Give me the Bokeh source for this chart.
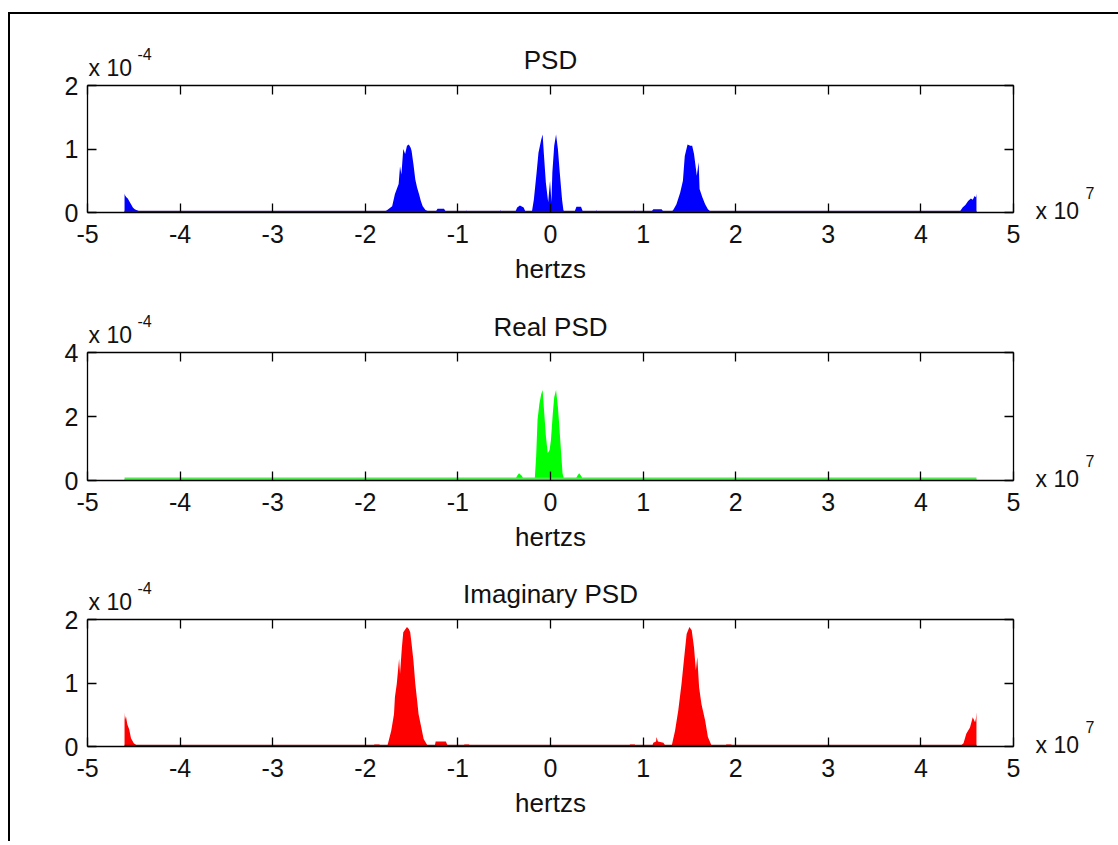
from bokeh.plotting import figure
from bokeh.layouts import column
from bokeh.models import Label, LinearAxis, FixedTicker, Range1d
from bokeh.embed import file_html
from bokeh.resources import INLINE

FONT = "Liberation Sans"
TICK_FS = "25px"
LABEL_FS = "26px"
MULT_FS = "23px"
SUP_FS = "16px"
TXT = "#111111"

# ---------------- data (frequency in units of 1e7 Hz, PSD in units of 1e-4) ---------------
x_ticks = [-5, -4, -3, -2, -1, 0, 1, 2, 3, 4, 5]
x_tick_labels = ["-5", "-4", "-3", "-2", "-1", "0", "1", "2", "3", "4", "5"]
titles = ["PSD", "Real PSD", "Imaginary PSD"]
x_label = "hertzs"
y_limits = [2, 4, 2]
y_ticks = [[0, 1, 2], [0, 2, 4], [0, 1, 2]]
y_multiplier = ["x 10", "-4"]
x_multiplier = ["x 10", "7"]
baseline_levels = [0.01, 0.05, 0.01]

psd_freq = [-4.6, -4.595, -4.58, -4.565, -4.55, -4.53, -4.51, -4.49, -4.46, -4.43,
            -1.80, -1.77, -1.71, -1.68, -1.64, -1.625, -1.61, -1.59, -1.57, -1.55, -1.53, -1.51,
            -1.50, -1.48, -1.46, -1.44, -1.42, -1.40, -1.38, -1.35, -1.31,
            -1.24, -1.22, -1.15, -1.13, -0.92, -0.91, -0.90, -0.55, -0.54, -0.52,
            -0.38, -0.36, -0.33, -0.29, -0.27,
            -0.20, -0.18, -0.15, -0.13, -0.10, -0.085, -0.07, -0.05, -0.025, -0.005,
            0.01, 0.02, 0.04, 0.06, 0.08, 0.10, 0.125, 0.14, 0.16,
            0.26, 0.28, 0.33, 0.35, 0.48, 0.495, 0.51, 0.90, 0.91, 0.92,
            1.09, 1.11, 1.20, 1.22,
            1.31, 1.33, 1.36, 1.40, 1.43, 1.45, 1.48, 1.51, 1.53, 1.55, 1.58, 1.60, 1.61,
            1.64, 1.67, 1.70, 1.73,
            4.42, 4.45, 4.48, 4.51, 4.54, 4.56, 4.58, 4.595, 4.6]
psd_val = [0.30, 0.27, 0.24, 0.22, 0.18, 0.13, 0.08, 0.05, 0.03, 0.01,
           0.01, 0.03, 0.10, 0.29, 0.45, 0.73, 0.60, 1.00, 0.92, 1.05, 1.07, 1.02,
           0.97, 0.76, 0.52, 0.39, 0.29, 0.18, 0.10, 0.04, 0.01,
           0.01, 0.06, 0.06, 0.01, 0.01, 0.03, 0.01, 0.01, 0.03, 0.01,
           0.01, 0.08, 0.11, 0.08, 0.01,
           0.02, 0.20, 0.63, 0.94, 1.15, 1.23, 0.89, 0.47, 0.16, 0.50,
           0.16, 0.63, 1.05, 1.23, 1.00, 0.63, 0.20, 0.03, 0.01,
           0.01, 0.09, 0.09, 0.01, 0.01, 0.03, 0.01, 0.01, 0.03, 0.01,
           0.01, 0.05, 0.05, 0.01,
           0.01, 0.05, 0.13, 0.31, 0.50, 0.89, 1.07, 1.05, 1.05, 0.92, 0.58, 0.79, 0.37,
           0.24, 0.13, 0.05, 0.01,
           0.01, 0.08, 0.12, 0.18, 0.22, 0.20, 0.26, 0.24, 0.30]

real_freq = [-4.6, -0.55, -0.53, -0.51, -0.38, -0.36, -0.34, -0.31, -0.29,
             -0.17, -0.155, -0.14, -0.12, -0.10, -0.085, -0.07, -0.05, -0.03, -0.01,
             0.005, 0.025, 0.04, 0.06, 0.08, 0.095, 0.115, 0.13, 0.145,
             0.27, 0.29, 0.31, 0.33, 0.35, 0.49, 0.51, 0.53, 4.6]
real_val = [0.04, 0.04, 0.08, 0.04, 0.04, 0.15, 0.23, 0.15, 0.04,
            0.05, 0.75, 1.90, 2.40, 2.70, 2.83, 2.20, 1.40, 0.85, 0.95,
            1.27, 2.10, 2.60, 2.83, 2.30, 1.70, 0.85, 0.23, 0.04,
            0.04, 0.15, 0.23, 0.15, 0.04, 0.04, 0.08, 0.04, 0.04]

imag_freq = [-4.6, -4.595, -4.585, -4.57, -4.55, -4.53, -4.50, -4.47,
             -1.92, -1.90, -1.85, -1.83,
             -1.76, -1.72, -1.69, -1.68, -1.66, -1.635, -1.625, -1.605, -1.59, -1.55, -1.53,
             -1.515, -1.50, -1.48, -1.46, -1.44, -1.425, -1.395, -1.37, -1.33,
             -1.25, -1.24, -1.13, -1.11, -0.94, -0.93, -0.88, -0.87, -0.67, -0.66, -0.65,
             0.63, 0.64, 0.65, 0.85, 0.86, 0.91, 0.92,
             1.10, 1.11, 1.14, 1.145, 1.16, 1.22, 1.24,
             1.31, 1.345, 1.38, 1.415, 1.44, 1.47, 1.50, 1.525, 1.55, 1.57, 1.585, 1.605,
             1.63, 1.67, 1.70, 1.74,
             1.88, 1.90, 1.95, 1.97,
             4.43, 4.46, 4.49, 4.53, 4.56, 4.585, 4.595, 4.6]
imag_val = [0.54, 0.42, 0.48, 0.35, 0.27, 0.13, 0.05, 0.02,
            0.01, 0.03, 0.03, 0.01,
            0.02, 0.25, 0.51, 0.78, 0.99, 1.38, 1.14, 1.56, 1.80, 1.88, 1.85,
            1.80, 1.62, 1.35, 0.99, 0.72, 0.51, 0.30, 0.12, 0.02,
            0.01, 0.08, 0.08, 0.01, 0.01, 0.03, 0.03, 0.01, 0.01, 0.02, 0.01,
            0.01, 0.02, 0.01, 0.01, 0.03, 0.03, 0.01,
            0.01, 0.06, 0.08, 0.15, 0.08, 0.06, 0.01,
            0.02, 0.25, 0.57, 0.99, 1.35, 1.77, 1.88, 1.83, 1.56, 1.20, 1.41, 0.93,
            0.67, 0.41, 0.15, 0.01,
            0.01, 0.03, 0.03, 0.01,
            0.01, 0.05, 0.20, 0.30, 0.46, 0.38, 0.45, 0.54]

fills = ["#0000ff", "#00ff00", "#ff0000"]
base_colors = ["#3a1470", "#55e855", "#8a0a0a"]
base_widths = [2, 3, 2]

# ---------------- layout geometry (canvas pixels) ----------------
FIG_W = 1108
BORDER_L, BORDER_R = 77, 105
FRAME_W = FIG_W - BORDER_L - BORDER_R
tops = [71, 58, 57]
frame_h = [127, 128, 127]
bottoms = [82, 82, 95]


def style_axis(ax, ticks, labels=None, show_labels=True):
    ax.ticker = FixedTicker(ticks=ticks)
    if labels is not None:
        ax.major_label_overrides = {t: l for t, l in zip(ticks, labels)}
    ax.major_tick_in = 9
    ax.major_tick_out = 0
    ax.minor_tick_line_color = None
    ax.axis_line_color = "black"
    ax.axis_line_width = 1.3
    ax.major_tick_line_color = "black"
    ax.major_tick_line_width = 1.3
    ax.major_label_text_font = FONT
    ax.major_label_text_font_style = "normal"
    if show_labels:
        ax.major_label_text_font_size = TICK_FS
        ax.major_label_text_color = TXT
    else:
        ax.major_label_text_font_size = "1px"
        ax.major_label_text_color = None
        ax.major_label_standoff = 0


def canvas_label(p, side, x, y, text, size, align="left"):
    p.add_layout(Label(x=x, y=y, x_units="canvas", y_units="canvas", text=text,
                       text_align=align, text_baseline="alphabetic", text_font=FONT,
                       text_font_size=size, text_color=TXT), side)


def panel(i, freq, val):
    ymax = y_limits[i]
    top = tops[i]
    fh = frame_h[i]
    bottom = top + fh
    h = bottom + bottoms[i]
    left = BORDER_L
    right = BORDER_L + FRAME_W
    p = figure(width=FIG_W, height=h, x_range=Range1d(-5, 5), y_range=Range1d(0, ymax),
               output_backend="svg", toolbar_location=None,
               min_border_left=BORDER_L, min_border_right=BORDER_R,
               min_border_top=top, min_border_bottom=bottoms[i])
    p.grid.visible = False
    p.outline_line_color = None
    p.background_fill_color = "white"
    p.border_fill_color = "white"

    xb = p.xaxis[0]
    style_axis(xb, x_ticks, x_tick_labels)
    xb.major_label_standoff = 12
    xb.axis_label = x_label
    xb.axis_label_text_font = FONT
    xb.axis_label_text_font_size = LABEL_FS
    xb.axis_label_text_font_style = "normal"
    xb.axis_label_text_color = TXT
    xb.axis_label_standoff = 8

    yl = p.yaxis[0]
    style_axis(yl, y_ticks[i], [str(t) for t in y_ticks[i]])
    yl.major_label_standoff = 9

    xt = LinearAxis()
    style_axis(xt, x_ticks, show_labels=False)
    p.add_layout(xt, "above")
    yr = LinearAxis()
    style_axis(yr, y_ticks[i], show_labels=False)
    p.add_layout(yr, "right")

    p.varea(x=freq, y1=0, y2=val, fill_color=fills[i], fill_alpha=1.0)
    p.line(x=[freq[0], freq[-1]], y=[baseline_levels[i]] * 2,
           line_color=base_colors[i], line_width=base_widths[i])

    # title centred over the axes box
    canvas_label(p, "above", left + FRAME_W / 2, top - 26, titles[i], LABEL_FS, align="center")
    # y-axis multiplier (x 10^-4), above the top-left corner
    canvas_label(p, "left", left + 1, top - 18, y_multiplier[0], MULT_FS)
    canvas_label(p, "right", left + 50, top - 32, y_multiplier[1], SUP_FS)
    # x-axis multiplier (x 10^7), right of the bottom-right corner
    canvas_label(p, "right", right + 22, bottom - 2, x_multiplier[0], MULT_FS)
    canvas_label(p, "right", right + 72, bottom - 20, x_multiplier[1], SUP_FS)
    return p


p1 = panel(0, psd_freq, psd_val)
p2 = panel(1, real_freq, real_val)
p3 = panel(2, imag_freq, imag_val)

layout = column(p1, p2, p3, spacing=0,
                styles={"border-left": "2px solid #000", "border-top": "2px solid #000",
                        "margin-left": "8px", "margin-top": "12px"})

open("out.html", "w").write(file_html(layout, INLINE))
